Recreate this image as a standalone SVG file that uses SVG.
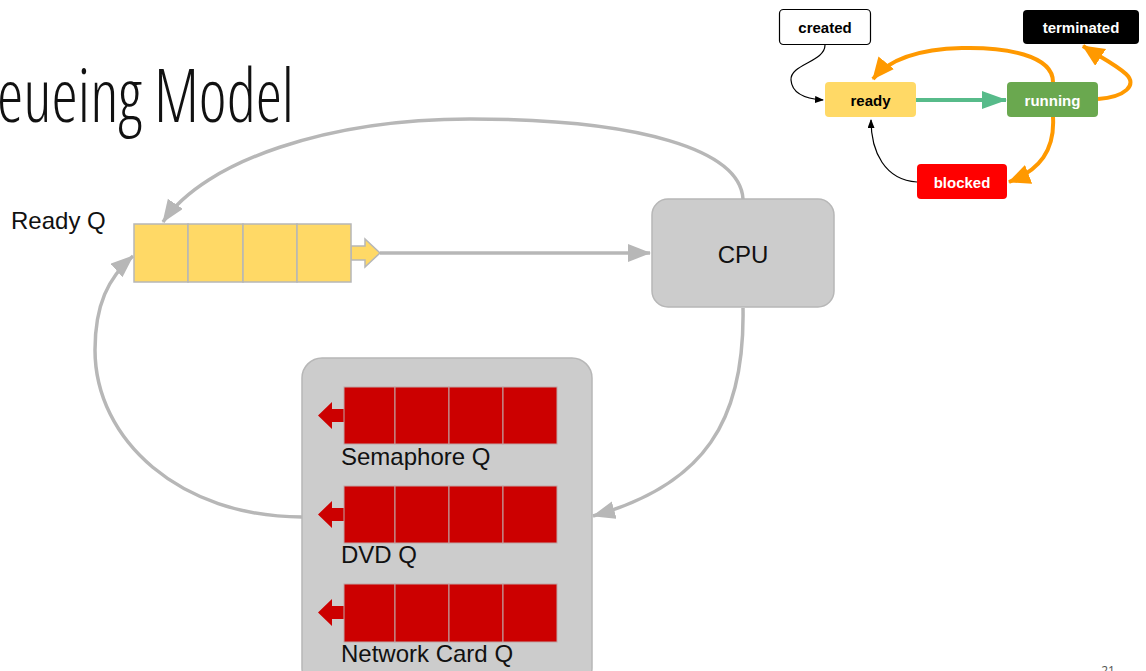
<svg xmlns="http://www.w3.org/2000/svg" width="1146" height="671" viewBox="0 0 1146 671">
  <style>
    .lbl { font-family: "Liberation Sans", Arial, sans-serif; font-size: 24px; fill: #111; }
    .st { font-family: "Liberation Sans", Arial, sans-serif; font-size: 15px; font-weight: bold; text-anchor: middle; }
    .gray { fill: none; stroke: #b7b7b7; stroke-width: 3.5; }
    .box { fill: #cccccc; stroke: #b7b7b7; stroke-width: 1.5; }
    .ycell { fill: #ffd966; stroke: #b7b7b7; stroke-width: 1.5; }
    .rcell { fill: #cc0000; stroke: #bfa5a5; stroke-width: 1; }
    .org { fill: none; stroke: #ff9900; stroke-width: 4; }
    .thin { fill: none; stroke: #000; stroke-width: 1.2; }
  </style>
  <defs>
    <marker id="arrGray" markerUnits="userSpaceOnUse" markerWidth="24" markerHeight="20" refX="22" refY="9" orient="auto">
      <path d="M0,0 L23,9 L0,18 z" fill="#b7b7b7"/>
    </marker>
    <marker id="arrOrange" markerUnits="userSpaceOnUse" markerWidth="24" markerHeight="22" refX="21" refY="10" orient="auto">
      <path d="M0,0 L22,10 L0,20 z" fill="#ff9900"/>
    </marker>
    <marker id="arrTeal" markerUnits="userSpaceOnUse" markerWidth="26" markerHeight="20" refX="24" refY="9" orient="auto">
      <path d="M0,0 L25,9 L0,18 z" fill="#57bb8a"/>
    </marker>
    <marker id="arrBlack" markerUnits="userSpaceOnUse" markerWidth="10" markerHeight="8" refX="8" refY="3.5" orient="auto">
      <path d="M0,0 L9,3.5 L0,7 z" fill="#000"/>
    </marker>
  </defs>

  <rect width="1146" height="671" fill="#ffffff"/>

  <!-- slide title, running off the left edge -->
  <text x="-3" y="122" font-family="'Open Sans', 'DejaVu Sans', sans-serif" font-stretch="condensed" font-weight="300" font-size="74" fill="#111" textLength="297" lengthAdjust="spacingAndGlyphs">eueing Model</text>

  <!-- connectors of the queueing loop -->
  <g id="connectors">
    <path class="gray" d="M380 253 L650 253" marker-end="url(#arrGray)"/>
    <path class="gray" d="M743 199 C740 150 640 119 470 119 C330 119 205 160 163 222" marker-end="url(#arrGray)"/>
    <path class="gray" d="M743 308 C745 420 705 485 593 516" marker-end="url(#arrGray)"/>
    <path class="gray" d="M302 517 C180 517 95 440 95 350 C95 305 108 278 133 256" marker-end="url(#arrGray)"/>
  </g>

  <!-- ready queue -->
  <g id="ready-queue">
    <text class="lbl" x="11" y="229" font-size="24.5">Ready Q</text>
    <path class="ycell" d="M351 246 L365 246 L365 239 L380 253 L365 267 L365 260 L351 260 z"/>
    <rect class="ycell" x="134" y="224" width="54" height="58"/>
    <rect class="ycell" x="188" y="224" width="55" height="58"/>
    <rect class="ycell" x="243" y="224" width="54" height="58"/>
    <rect class="ycell" x="297" y="224" width="54" height="58"/>
  </g>

  <!-- CPU -->
  <g id="cpu">
    <rect class="box" x="652" y="199" width="182" height="108" rx="16"/>
    <text class="lbl" x="743" y="263" text-anchor="middle">CPU</text>
  </g>

  <!-- wait queues -->
  <g id="wait-queues">
    <rect class="box" x="302" y="358" width="290" height="330" rx="20"/>
    <g id="semaphore-q">
      <path d="M344 409 L332 409 L332 402 L318 415.5 L332 429 L332 422 L344 422 z" fill="#cc0000"/>
      <rect class="rcell" x="344" y="387" width="51" height="57"/>
      <rect class="rcell" x="395" y="387" width="54" height="57"/>
      <rect class="rcell" x="449" y="387" width="54" height="57"/>
      <rect class="rcell" x="503" y="387" width="54" height="57"/>
      <text class="lbl" x="341" y="465">Semaphore Q</text>
    </g>
    <g id="dvd-q">
      <path d="M344 508 L332 508 L332 501 L318 514.5 L332 528 L332 521 L344 521 z" fill="#cc0000"/>
      <rect class="rcell" x="344" y="486" width="51" height="57"/>
      <rect class="rcell" x="395" y="486" width="54" height="57"/>
      <rect class="rcell" x="449" y="486" width="54" height="57"/>
      <rect class="rcell" x="503" y="486" width="54" height="57"/>
      <text class="lbl" x="341" y="563">DVD Q</text>
    </g>
    <g id="network-card-q">
      <path d="M344 606 L332 606 L332 599 L318 612.5 L332 626 L332 619 L344 619 z" fill="#cc0000"/>
      <rect class="rcell" x="344" y="584" width="51" height="58"/>
      <rect class="rcell" x="395" y="584" width="54" height="58"/>
      <rect class="rcell" x="449" y="584" width="54" height="58"/>
      <rect class="rcell" x="503" y="584" width="54" height="58"/>
      <text class="lbl" x="341" y="662">Network Card Q</text>
    </g>
  </g>

  <!-- process state diagram -->
  <g id="state-connectors">
    <path class="thin" d="M825 45 C825 62 790 64 791 80 C792 95 808 99 823 100" marker-end="url(#arrBlack)"/>
    <path d="M916 100 L1006 100" fill="none" stroke="#57bb8a" stroke-width="4" marker-end="url(#arrTeal)"/>
    <path class="org" d="M1053 82 C1053 55 1005 47 962 48 C920 49 890 58 873 79" marker-end="url(#arrOrange)"/>
    <path class="org" d="M1098 99 C1125 97 1138 85 1126 74 C1115 64 1100 57 1083 46" marker-end="url(#arrOrange)"/>
    <path class="org" d="M1053 117 C1055 150 1040 170 1009 182" marker-end="url(#arrOrange)"/>
    <path class="thin" d="M917 182 C885 180 871 152 871 120" marker-end="url(#arrBlack)"/>
  </g>
  <g id="state-created">
    <rect x="779.5" y="9.5" width="91" height="35" rx="4" fill="#fff" stroke="#000" stroke-width="1.2"/>
    <text class="st" x="825" y="33" fill="#000">created</text>
  </g>
  <g id="state-terminated">
    <rect x="1023" y="10" width="116" height="34" rx="4" fill="#000"/>
    <text class="st" x="1081" y="33" fill="#fff">terminated</text>
  </g>
  <g id="state-ready">
    <rect x="825" y="82" width="91" height="35" rx="4" fill="#ffd966"/>
    <text class="st" x="870.5" y="105.5" fill="#000">ready</text>
  </g>
  <g id="state-running">
    <rect x="1007" y="82" width="91" height="35" rx="4" fill="#6aa84f"/>
    <text class="st" x="1052.5" y="105.5" fill="#fff">running</text>
  </g>
  <g id="state-blocked">
    <rect x="917" y="164" width="90" height="35" rx="4" fill="#ff0000"/>
    <text class="st" x="962" y="188" fill="#fff">blocked</text>
  </g>

  <!-- page number, clipped by the bottom edge -->
  <text x="1108" y="675" font-family="'Open Sans', 'DejaVu Sans', sans-serif" font-size="12" fill="#555" text-anchor="middle">21</text>
</svg>
